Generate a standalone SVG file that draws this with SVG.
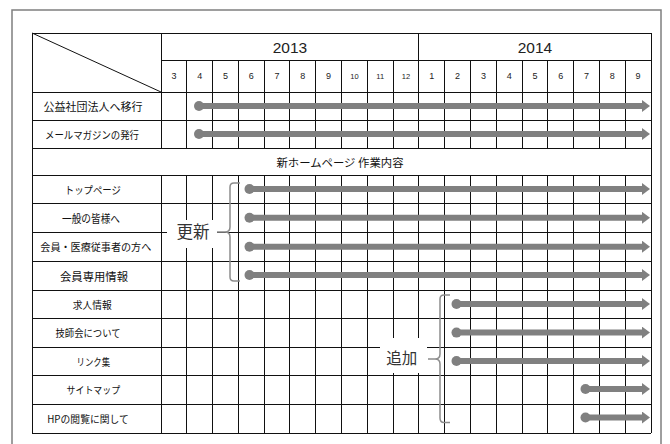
<svg xmlns="http://www.w3.org/2000/svg" width="670" height="444" viewBox="0 0 670 444">
<style>
.frame{fill:none;stroke:#7f7f7f;stroke-width:1.5}
.grid line{stroke:#111;stroke-width:1;shape-rendering:crispEdges}
.lbl{font-family:"Noto Sans CJK JP","Liberation Sans",sans-serif;fill:#111;text-anchor:middle;dominant-baseline:central}
.num{font-family:"Liberation Sans","Noto Sans CJK JP",sans-serif;fill:#222;text-anchor:middle;dominant-baseline:central}
.bar{stroke:#808080;stroke-width:6;fill:none;marker-start:url(#dot);marker-end:url(#head)}
.brace{fill:none;stroke:#8c8c8c;stroke-width:1.5}
.mask{fill:#fff}
</style>
<defs>
<marker id="head" markerUnits="userSpaceOnUse" markerWidth="8" markerHeight="12" refX="0" refY="6" orient="auto">
<path d="M0,0 L8,6 L0,12 z" fill="#808080"/>
</marker>
<marker id="dot" markerUnits="userSpaceOnUse" markerWidth="12" markerHeight="12" refX="6" refY="6" orient="auto">
<circle cx="6" cy="6" r="5" fill="#808080"/>
</marker>
</defs>
<rect width="670" height="444" fill="#fff"/>
<rect class="frame" x="12" y="10" width="649" height="445"/>

<g class="grid" id="grid">
<line x1="32" y1="33" x2="651" y2="33"/>
<line x1="161" y1="60" x2="651" y2="60"/>
<line x1="32" y1="92" x2="651" y2="92"/>
<line x1="32" y1="120" x2="651" y2="120"/>
<line x1="32" y1="148" x2="651" y2="148"/>
<line x1="32" y1="175" x2="651" y2="175"/>
<line x1="32" y1="203.5" x2="651" y2="203.5"/>
<line x1="32" y1="232.5" x2="651" y2="232.5"/>
<line x1="32" y1="261" x2="651" y2="261"/>
<line x1="32" y1="290" x2="651" y2="290"/>
<line x1="32" y1="318.5" x2="651" y2="318.5"/>
<line x1="32" y1="347" x2="651" y2="347"/>
<line x1="32" y1="375.5" x2="651" y2="375.5"/>
<line x1="32" y1="404.5" x2="651" y2="404.5"/>
<line x1="32" y1="433" x2="651" y2="433"/>
<line x1="32" y1="33" x2="32" y2="433"/>
<line x1="651" y1="33" x2="651" y2="433"/>
<line x1="161" y1="33" x2="161" y2="148"/><line x1="161" y1="175" x2="161" y2="433"/>
<line x1="418.9" y1="33" x2="418.9" y2="148"/><line x1="418.9" y1="175" x2="418.9" y2="433"/>
<line x1="186.8" y1="60" x2="186.8" y2="148"/><line x1="186.8" y1="175" x2="186.8" y2="433"/>
<line x1="212.6" y1="60" x2="212.6" y2="148"/><line x1="212.6" y1="175" x2="212.6" y2="433"/>
<line x1="238.4" y1="60" x2="238.4" y2="148"/><line x1="238.4" y1="175" x2="238.4" y2="433"/>
<line x1="264.2" y1="60" x2="264.2" y2="148"/><line x1="264.2" y1="175" x2="264.2" y2="433"/>
<line x1="289.9" y1="60" x2="289.9" y2="148"/><line x1="289.9" y1="175" x2="289.9" y2="433"/>
<line x1="315.7" y1="60" x2="315.7" y2="148"/><line x1="315.7" y1="175" x2="315.7" y2="433"/>
<line x1="341.5" y1="60" x2="341.5" y2="148"/><line x1="341.5" y1="175" x2="341.5" y2="433"/>
<line x1="367.3" y1="60" x2="367.3" y2="148"/><line x1="367.3" y1="175" x2="367.3" y2="433"/>
<line x1="393.1" y1="60" x2="393.1" y2="148"/><line x1="393.1" y1="175" x2="393.1" y2="433"/>
<line x1="444.7" y1="60" x2="444.7" y2="148"/><line x1="444.7" y1="175" x2="444.7" y2="433"/>
<line x1="470.5" y1="60" x2="470.5" y2="148"/><line x1="470.5" y1="175" x2="470.5" y2="433"/>
<line x1="496.3" y1="60" x2="496.3" y2="148"/><line x1="496.3" y1="175" x2="496.3" y2="433"/>
<line x1="522.1" y1="60" x2="522.1" y2="148"/><line x1="522.1" y1="175" x2="522.1" y2="433"/>
<line x1="547.8" y1="60" x2="547.8" y2="148"/><line x1="547.8" y1="175" x2="547.8" y2="433"/>
<line x1="573.6" y1="60" x2="573.6" y2="148"/><line x1="573.6" y1="175" x2="573.6" y2="433"/>
<line x1="599.4" y1="60" x2="599.4" y2="148"/><line x1="599.4" y1="175" x2="599.4" y2="433"/>
<line x1="625.2" y1="60" x2="625.2" y2="148"/><line x1="625.2" y1="175" x2="625.2" y2="433"/>
<line x1="32" y1="33" x2="161" y2="92" style="shape-rendering:auto"/>
</g>

<g id="header">
<text class="num" x="290" y="47" font-size="15.5">2013</text>
<text class="num" x="535" y="47" font-size="15.5">2014</text>
<g font-size="9">
<text class="num" x="173.9" y="76">3</text>
<text class="num" x="199.7" y="76">4</text>
<text class="num" x="225.5" y="76">5</text>
<text class="num" x="251.3" y="76">6</text>
<text class="num" x="277.1" y="76">7</text>
<text class="num" x="302.8" y="76">8</text>
<text class="num" x="328.6" y="76">9</text>
<text class="num" x="354.4" y="76" font-size="7.5">10</text>
<text class="num" x="380.2" y="76" font-size="7.5">11</text>
<text class="num" x="406" y="76" font-size="7.5">12</text>
<text class="num" x="431.8" y="76">1</text>
<text class="num" x="457.6" y="76">2</text>
<text class="num" x="483.4" y="76">3</text>
<text class="num" x="509.2" y="76">4</text>
<text class="num" x="535" y="76">5</text>
<text class="num" x="560.7" y="76">6</text>
<text class="num" x="586.5" y="76">7</text>
<text class="num" x="612.3" y="76">8</text>
<text class="num" x="638.1" y="76">9</text>
</g>
</g>

<g id="row-koueki"><text class="lbl" x="93" y="106" font-size="11" textLength="99" lengthAdjust="spacingAndGlyphs">公益社団法人へ移行</text></g>
<g id="row-mailmag"><text class="lbl" x="92" y="134" font-size="10.5" textLength="94" lengthAdjust="spacingAndGlyphs">メールマガジンの発行</text></g>
<g id="row-section"><text class="lbl" x="340" y="161.5" font-size="11" textLength="127" lengthAdjust="spacingAndGlyphs">新ホームページ 作業内容</text></g>
<g id="row-top"><text class="lbl" x="92.8" y="189" font-size="10.5" textLength="56" lengthAdjust="spacingAndGlyphs">トップページ</text></g>
<g id="row-ippan"><text class="lbl" x="91" y="218" font-size="11" textLength="58" lengthAdjust="spacingAndGlyphs">一般の皆様へ</text></g>
<g id="row-kaiin-iryo"><text class="lbl" x="95.8" y="246.7" font-size="10.2" textLength="111" lengthAdjust="spacingAndGlyphs">会員・医療従事者の方へ</text></g>
<g id="row-kaiin-senyo"><text class="lbl" x="94" y="275.5" font-size="11.3" textLength="68" lengthAdjust="spacingAndGlyphs">会員専用情報</text></g>
<g id="row-kyujin"><text class="lbl" x="92.2" y="304" font-size="10" textLength="39" lengthAdjust="spacingAndGlyphs">求人情報</text></g>
<g id="row-gishikai"><text class="lbl" x="88" y="332.7" font-size="10" textLength="65" lengthAdjust="spacingAndGlyphs">技師会について</text></g>
<g id="row-link"><text class="lbl" x="93.3" y="361" font-size="10" textLength="33.5" lengthAdjust="spacingAndGlyphs">リンク集</text></g>
<g id="row-sitemap"><text class="lbl" x="93.3" y="389.5" font-size="10" textLength="53.5" lengthAdjust="spacingAndGlyphs">サイトマップ</text></g>
<g id="row-hp"><text class="lbl" x="88" y="418.5" font-size="10" textLength="81.5" lengthAdjust="spacingAndGlyphs">HPの閲覧に関して</text></g>

<g id="brace-koushin">
<rect class="mask" x="167" y="220" width="50" height="28"/>
<path class="brace" d="M240,183 H234 Q230,183 230,187 V227 Q230,232 225,232 H217 M225,232 Q230,232 230,237 V277 Q230,281 234,281 H240"/>
<text class="lbl" x="193" y="231" font-size="16.5" style="fill:#333">更新</text>
</g>
<g id="brace-tsuika">
<rect class="mask" x="380" y="338" width="47" height="35"/>
<path class="brace" d="M450,295 H444 Q440,295 440,299 V354 Q440,359 435,359 H428 M435,359 Q440,359 440,364 V418 Q440,422.5 444,422.5 H450"/>
<text class="lbl" x="401.7" y="357" font-size="15.5" style="fill:#333">追加</text>
</g>

<g id="connectors">
<line class="bar" x1="199" y1="106" x2="642" y2="106"/>
<line class="bar" x1="199" y1="134" x2="642" y2="134"/>
<line class="bar" x1="249.5" y1="189" x2="642" y2="189"/>
<line class="bar" x1="249.5" y1="217.8" x2="642" y2="217.8"/>
<line class="bar" x1="249.5" y1="246.7" x2="642" y2="246.7"/>
<line class="bar" x1="249.5" y1="275" x2="642" y2="275"/>
<line class="bar" x1="456.5" y1="304" x2="642" y2="304"/>
<line class="bar" x1="456.5" y1="332.6" x2="642" y2="332.6"/>
<line class="bar" x1="456.5" y1="361" x2="642" y2="361"/>
<line class="bar" x1="585.5" y1="389" x2="642" y2="389"/>
<line class="bar" x1="585.5" y1="417.5" x2="642" y2="417.5"/>
</g>
</svg>
